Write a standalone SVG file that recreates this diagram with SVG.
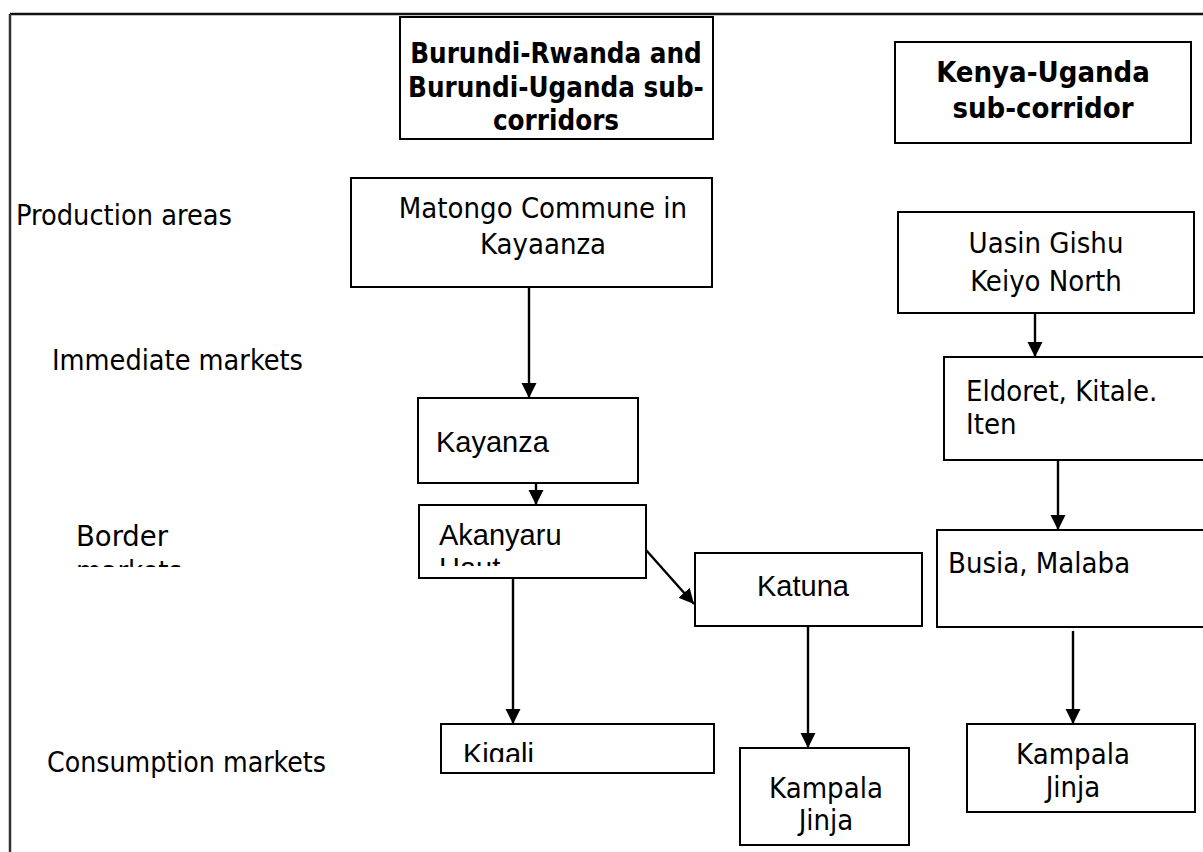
<svg xmlns="http://www.w3.org/2000/svg" width="1203" height="852" viewBox="0 0 1203 852">
  <style>
    .box { fill: #fff; stroke: #000; stroke-width: 2; }
    .frame { stroke: #111; stroke-width: 2.5; fill: none; }
    .tah { font-family: "DejaVu Sans Condensed", "DejaVu Sans", sans-serif; font-stretch: condensed; font-size: 29px; fill: #000; }
    .ari { font-family: "Liberation Sans", Arial, sans-serif; font-size: 29px; fill: #000; }
    .head { font-family: "DejaVu Sans Condensed", "DejaVu Sans", sans-serif; font-stretch: condensed; font-weight: bold; font-size: 29px; fill: #000; text-anchor: middle; }
    .head-s { font-size: 27.5px; }
    .mid { text-anchor: middle; }
    .conn line { stroke: #000; stroke-width: 2.4; marker-end: url(#arrow); }
  </style>
  <defs>
    <marker id="arrow" viewBox="0 0 10 10" refX="10" refY="5" markerUnits="userSpaceOnUse" markerWidth="15" markerHeight="16" orient="auto">
      <path d="M0,0 L10,5 L0,10 z" fill="#000"/>
    </marker>
    <clipPath id="clipBorder"><rect x="0" y="480" width="340" height="87"/></clipPath>
    <clipPath id="clipAkanyaru"><rect x="420" y="506" width="225" height="60"/></clipPath>
    <clipPath id="clipKigali"><rect x="442" y="725" width="271" height="37"/></clipPath>
  </defs>

  <rect width="1203" height="852" fill="#fff"/>

  <!-- outer frame -->
  <g id="frame">
    <line class="frame" x1="10" y1="14" x2="1203" y2="14"/>
    <line class="frame" x1="10" y1="14" x2="10" y2="852" style="stroke:#333"/>
  </g>

  <!-- row labels -->
  <g id="row-labels">
    <text class="tah" x="16" y="225" textLength="216" lengthAdjust="spacingAndGlyphs">Production areas</text>
    <text class="tah" x="52" y="370" textLength="251" lengthAdjust="spacingAndGlyphs">Immediate markets</text>
    <g clip-path="url(#clipBorder)">
      <text class="tah" x="76" y="546" textLength="92" lengthAdjust="spacingAndGlyphs">Border</text>
      <text class="tah" x="76" y="581">markets</text>
    </g>
    <text class="tah" x="47" y="772" textLength="279" lengthAdjust="spacingAndGlyphs">Consumption markets</text>
  </g>

  <!-- corridor headings -->
  <g id="head-burundi">
    <rect class="box" x="400" y="17" width="313" height="122"/>
    <text class="head head-s" x="556" y="63">Burundi-Rwanda and</text>
    <text class="head head-s" x="556" y="97">Burundi-Uganda sub-</text>
    <text class="head head-s" x="556" y="130">corridors</text>
  </g>
  <g id="head-kenya">
    <rect class="box" x="895" y="42" width="296" height="101"/>
    <text class="head" x="1043" y="82">Kenya-Uganda</text>
    <text class="head" x="1043" y="118">sub-corridor</text>
  </g>

  <!-- Burundi corridor nodes -->
  <g id="matongo">
    <rect class="box" x="351" y="178" width="361" height="109"/>
    <text class="tah mid" x="543" y="218">Matongo Commune in</text>
    <text class="tah mid" x="543" y="254">Kayaanza</text>
  </g>
  <g id="kayanza">
    <rect class="box" x="418" y="398" width="220" height="85"/>
    <text class="ari" x="436" y="452">Kayanza</text>
  </g>
  <g id="akanyaru">
    <rect class="box" x="419" y="505" width="227" height="73"/>
    <g clip-path="url(#clipAkanyaru)">
      <text class="ari" x="439" y="545">Akanyaru</text>
      <text class="ari" x="439" y="578">Haut</text>
    </g>
  </g>
  <g id="katuna">
    <rect class="box" x="695" y="553" width="227" height="73"/>
    <text class="ari mid" x="803" y="596">Katuna</text>
  </g>
  <g id="kigali">
    <rect class="box" x="441" y="724" width="273" height="49"/>
    <g clip-path="url(#clipKigali)">
      <text class="ari" x="463" y="764">Kigali</text>
    </g>
  </g>
  <g id="kampala-west">
    <rect class="box" x="740" y="748" width="169" height="97"/>
    <text class="tah mid" x="826" y="798">Kampala</text>
    <text class="tah mid" x="826" y="830">Jinja</text>
  </g>

  <!-- Kenya corridor nodes -->
  <g id="uasin-gishu">
    <rect class="box" x="898" y="212" width="296" height="101"/>
    <text class="tah mid" x="1046" y="253">Uasin Gishu</text>
    <text class="tah mid" x="1046" y="291">Keiyo North</text>
  </g>
  <g id="eldoret">
    <rect class="box" x="944" y="357" width="270" height="103"/>
    <text class="tah" x="966" y="401">Eldoret, Kitale.</text>
    <text class="tah" x="966" y="434">Iten</text>
  </g>
  <g id="busia">
    <rect class="box" x="937" y="530" width="270" height="97"/>
    <text class="tah" x="948" y="573">Busia, Malaba</text>
  </g>
  <g id="kampala-east">
    <rect class="box" x="967" y="724" width="228" height="88"/>
    <text class="tah mid" x="1073" y="764">Kampala</text>
    <text class="tah mid" x="1073" y="797">Jinja</text>
  </g>

  <!-- flows between markets -->
  <g id="connectors" class="conn">
    <line x1="529" y1="287" x2="529" y2="398"/>
    <line x1="536" y1="483" x2="536" y2="505"/>
    <line x1="513" y1="578" x2="513" y2="724"/>
    <line x1="646" y1="550" x2="694" y2="604"/>
    <line x1="808" y1="626" x2="808" y2="748"/>
    <line x1="1035" y1="313" x2="1035" y2="357"/>
    <line x1="1058" y1="460" x2="1058" y2="530"/>
    <line x1="1073" y1="631" x2="1073" y2="724"/>
  </g>
</svg>
